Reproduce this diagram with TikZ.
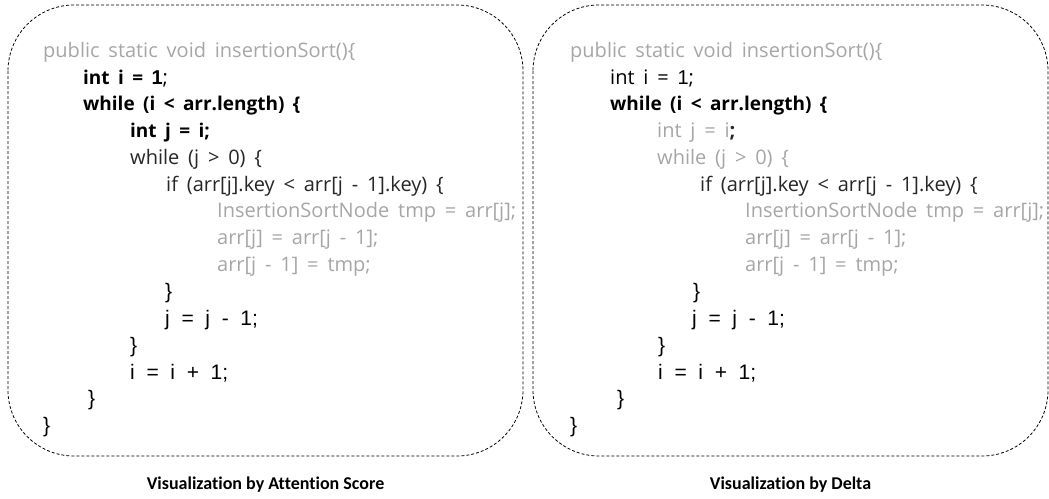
\documentclass[tikz,border=0pt]{standalone}
\usepackage{fontspec}
\setmainfont{Carlito}[Ligatures=NoCommon]
\newfontfamily\codefont{Open Sans}[WordSpace=1.7]
\newfontfamily\arialfont{Liberation Sans}[WordSpace=2.0]
\definecolor{codegray}{HTML}{A6A6A6}
\definecolor{codedark}{HTML}{262626}
\begin{document}
\begin{tikzpicture}[x=1pt,y=-1pt,
  panel/.style={draw=black, line width=0.8pt, dash pattern=on 3pt off 2pt, rounded corners=66pt},
  codeline/.style={anchor=west, inner sep=0pt, font=\codefont\fontsize{20}{24}\selectfont},
  faint/.style={codeline, text=codegray},
  plain/.style={codeline, text=codedark},
  strong/.style={codeline, text=black, font=\codefont\bfseries\fontsize{19}{23}\selectfont},
  brace/.style={anchor=west, inner sep=0pt, text=black, font=\arialfont\fontsize{21}{25}\selectfont},
  caption/.style={anchor=center, inner sep=0pt, font=\bfseries\fontsize{18}{22}\selectfont}]
\useasboundingbox (0,0) rectangle (1049,498);

% dashed panels
\draw[panel] (8,5) rectangle (523,456);
\draw[panel] (533,5) rectangle (1048,456);

% left panel: attention score
\node[faint]  (a0)  at (43,52)    {public static void insertionSort()\{};
\node[strong] (a1)  at (83,78.8)  {int i = \arialfont\fontsize{20}{24}\selectfont 1\codefont\mdseries;};
\node[strong] (a2)  at (83,105.6) {while (i < arr.length) \{};
\node[strong] (a3)  at (130,132.4){int j = i;};
\node[plain]  (a4)  at (130,159.2){while (j > 0) \{};
\node[plain]  (a5)  at (166,186)  {if (arr[j].key < arr[j - 1].key) \{};
\node[faint]  (a6)  at (217,212.8){InsertionSortNode tmp = arr[j];};
\node[faint]  (a7)  at (217,239.6){arr[j] = arr[j - 1];};
\node[faint]  (a8)  at (217,266.4){arr[j - 1] = tmp;};
\node[brace]  (a9)  at (165,293.2){\}};
\node[brace]  (a10) at (165,320)  {j = j - 1;};
\node[brace]  (a11) at (130,346.8){\}};
\node[brace]  (a12) at (130,373.6){i = i + 1;};
\node[brace]  (a13) at (88,400.4) {\}};
\node[brace]  (a14) at (43,427.2) {\}};
\node[caption] (capA) at (265.5,485) {Visualization by Attention Score};

% right panel: delta
\node[faint]  (b0)  at (570,52)    {public static void insertionSort()\{};
\node[plain, text=black] (b1) at (610,78.8) {int i = \arialfont\fontsize{20}{24}\selectfont 1\codefont;};
\node[strong] (b2)  at (610,105.6) {while (i < arr.length) \{};
\node[faint]  (b3)  at (657,132.4) {int j = i\textcolor{codedark}{\bfseries;}};
\node[faint]  (b4)  at (657,159.2) {while (j > 0) \{};
\node[plain]  (b5)  at (700,186)   {if (arr[j].key < arr[j - 1].key) \{};
\node[faint]  (b6)  at (745,212.8) {InsertionSortNode tmp = arr[j];};
\node[faint]  (b7)  at (745,239.6) {arr[j] = arr[j - 1];};
\node[faint]  (b8)  at (745,266.4) {arr[j - 1] = tmp;};
\node[brace]  (b9)  at (693,293.2) {\}};
\node[brace]  (b10) at (692,320)   {j = j - 1;};
\node[brace]  (b11) at (658,346.8) {\}};
\node[brace]  (b12) at (658,373.6) {i = i + 1;};
\node[brace]  (b13) at (617,400.4) {\}};
\node[brace]  (b14) at (570,427.2) {\}};
\node[caption] (capB) at (790.5,485) {Visualization by Delta};
\end{tikzpicture}
\end{document}
